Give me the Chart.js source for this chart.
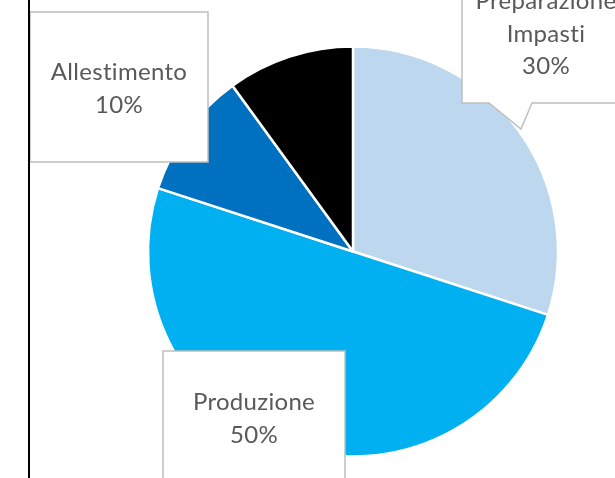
<!DOCTYPE html>
<html>
<head>
<meta charset="utf-8">
<script src="https://cdn.jsdelivr.net/npm/chart.js@4.4.0/dist/chart.umd.min.js"></script>
<style>
  html, body { margin: 0; padding: 0; background: #fff; }
  #wrap { width: 615px; height: 478px; }
</style>
</head>
<body>
<div id="wrap"><canvas id="pie"></canvas></div>
<script>
const categories = ['Preparazione Impasti', 'Produzione', 'Allestimento', ''];
const shares = [30, 50, 10, 10];
const sliceColors = ['#BDD7EE', '#00B0F0', '#0070C0', '#000000'];

// callout boxes for the labelled slices (index into categories)
const callouts = [
    { index: 0, box: [462, -46, 168, 149], firstLine: 9, pointer: [[489, 103], [521, 129], [532, 103]] },
    { index: 1, box: [163, 351, 182, 140], firstLine: 410 },
    { index: 2, box: [30, 12, 178, 150], firstLine: 80 }
];

const wrapText = (ctx, text, maxWidth) => {
    const words = text.split(' ');
    const lines = [];
    let line = '';
    words.forEach(w => {
        const test = line ? line + ' ' + w : w;
        if (ctx.measureText(test).width > maxWidth && line) {
            lines.push(line);
            line = w;
        } else {
            line = test;
        }
    });
    if (line) lines.push(line);
    return lines;
};

const calloutPlugin = {
    id: 'callouts',
    afterDraw(chart) {
        const ctx = chart.ctx;
        const total = shares.reduce((a, b) => a + b, 0);
        ctx.save();

        callouts.forEach(c => {
            const [x, y, w, h] = c.box;
            ctx.beginPath();
            if (c.pointer) {
                ctx.moveTo(x, y);
                ctx.lineTo(x + w, y);
                ctx.lineTo(x + w, y + h);
                ctx.lineTo(c.pointer[2][0], c.pointer[2][1]);
                ctx.lineTo(c.pointer[1][0], c.pointer[1][1]);
                ctx.lineTo(c.pointer[0][0], c.pointer[0][1]);
                ctx.lineTo(x, y + h);
                ctx.closePath();
            } else {
                ctx.rect(x, y, w, h);
            }
            ctx.fillStyle = '#fff';
            ctx.fill();
            ctx.strokeStyle = '#BFBFBF';
            ctx.lineWidth = 1.5;
            ctx.stroke();

            ctx.font = '24px Lato';
            ctx.letterSpacing = '0.3px'; // avoids the "ti" ligature
            ctx.fillStyle = '#595959';
            ctx.textAlign = 'center';
            ctx.textBaseline = 'alphabetic';
            const lines = wrapText(ctx, categories[c.index], w - 20);
            lines.push(Math.round(shares[c.index] / total * 100) + '%');
            lines.forEach((l, i) => {
                ctx.fillText(l, x + w / 2, c.firstLine + i * 32.5);
            });
        });
        // left border line
        ctx.fillStyle = '#000';
        ctx.fillRect(28, 0, 2, chart.height);
        ctx.restore();
    }
};

new Chart(document.getElementById('pie'), {
    type: 'pie',
    data: {
        labels: categories,
        datasets: [{
            data: shares,
            backgroundColor: sliceColors,
            borderColor: '#ffffff',
            borderWidth: 2.5
        }]
    },
    options: {
        responsive: true,
        maintainAspectRatio: false,
        animation: false,
        radius: 205,
        layout: { padding: { left: 91, right: 0, top: 25, bottom: 0 } },
        plugins: {
            legend: { display: false },
            tooltip: { enabled: false }
        }
    },
    plugins: [calloutPlugin]
});
</script>
</body>
</html>
